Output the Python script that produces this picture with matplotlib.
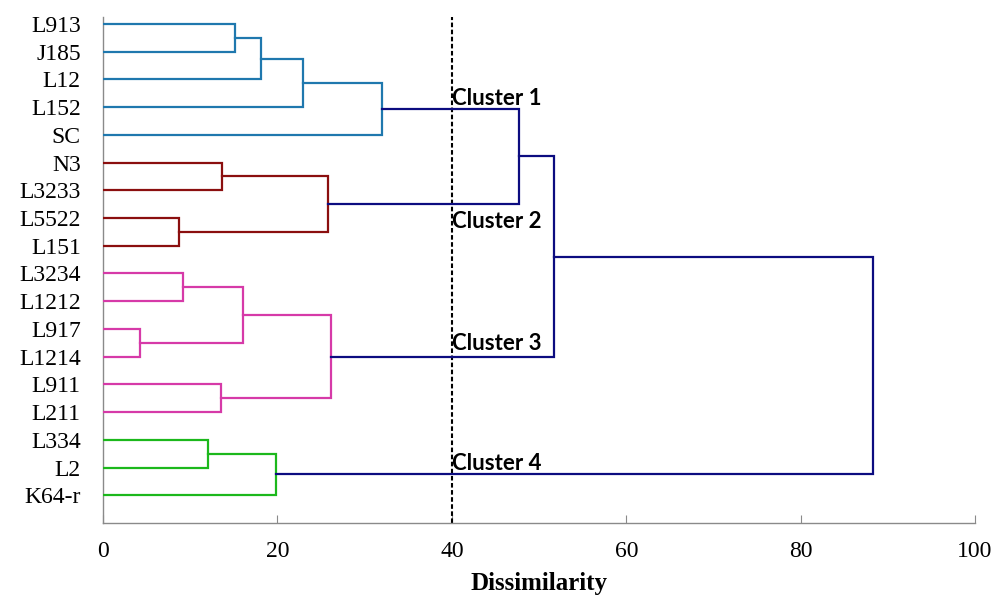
import matplotlib
matplotlib.use('Agg')
import matplotlib.pyplot as plt

# leaf order, top to bottom
leaves = ['L913', 'J185', 'L12', 'L152', 'SC', 'N3', 'L3233', 'L5522', 'L151',
          'L3234', 'L1212', 'L917', 'L1214', 'L911', 'L211', 'L334', 'L2', 'K64-r']

# merge table: child a, child b, dissimilarity, group ("m3" = result of row 3)
merge_a = ['L913', 'm0', 'm1', 'm2', 'N3', 'L5522', 'm4', 'L3234', 'L917', 'm7',
           'L911', 'm9', 'L334', 'm12', 'm3', 'm14', 'm15']
merge_b = ['J185', 'L12', 'L152', 'SC', 'L3233', 'L151', 'm5', 'L1212', 'L1214', 'm8',
           'L211', 'm10', 'L2', 'K64-r', 'm6', 'm11', 'm13']
merge_h = [15.1, 18.1, 22.9, 32.0, 13.6, 8.7, 25.8, 9.2, 4.3, 16.1,
           13.5, 26.1, 12.0, 19.8, 47.7, 51.7, 88.3]
merge_group = ['c1', 'c1', 'c1', 'c1', 'c2', 'c2', 'c2', 'c3', 'c3', 'c3',
               'c3', 'c3', 'c4', 'c4', 'top', 'top', 'top']

cluster_names = ['Cluster 1', 'Cluster 2', 'Cluster 3', 'Cluster 4']
cut_value = 40

colors = {'c1': '#1f78ae', 'c2': '#8b0f0f', 'c3': '#d63aa8',
          'c4': '#1cb81c', 'top': '#0c0c80'}

fig = plt.figure(figsize=(9.95, 5.98), dpi=100)
ax = fig.add_axes([0.1035, 0.1254, 0.8765, 0.8462])

nodes = {name: (0.0, i) for i, name in enumerate(leaves)}
for k in range(len(merge_h)):
    xa, ya = nodes[merge_a[k]]
    xb, yb = nodes[merge_b[k]]
    h = merge_h[k]
    ax.plot([xa, h, h, xb], [ya, ya, yb, yb], color=colors[merge_group[k]],
            lw=1.6, solid_joinstyle='miter', zorder=3)
    nodes['m%d' % k] = (h, (ya + yb) / 2)

ax.axvline(cut_value, color='black', lw=1.5, linestyle=(0, (2.2, 1.2)), zorder=2)

# cluster labels just right of the cut line
label_y = [2.92, 7.36, 11.77, 16.1]
for name, y in zip(cluster_names, label_y):
    ax.text(cut_value, y, name, fontfamily='Lato', fontweight='bold',
            fontsize=16, va='baseline', ha='left', zorder=4)

ax.set_xlim(0, 100)
ax.set_ylim(18, -0.25)
ax.set_yticks(range(len(leaves)))
ax.set_yticklabels(leaves, fontfamily='Liberation Serif', fontsize=17)
ax.tick_params(axis='y', length=0, pad=16)
ax.set_xticks([0, 20, 40, 60, 80, 100])
ax.tick_params(axis='x', direction='in', length=6, color='#8a8a8a', pad=13,
               labelsize=17)
for lbl in ax.get_xticklabels():
    lbl.set_fontfamily('Liberation Serif')
ax.set_xlabel('Dissimilarity', fontfamily='Liberation Serif', fontweight='bold',
              fontsize=18, labelpad=7)

for s in ['top', 'right']:
    ax.spines[s].set_visible(False)
for s in ['left', 'bottom']:
    ax.spines[s].set_color('#8a8a8a')
    ax.spines[s].set_linewidth(1.0)

fig.savefig('out.png', dpi=100)
